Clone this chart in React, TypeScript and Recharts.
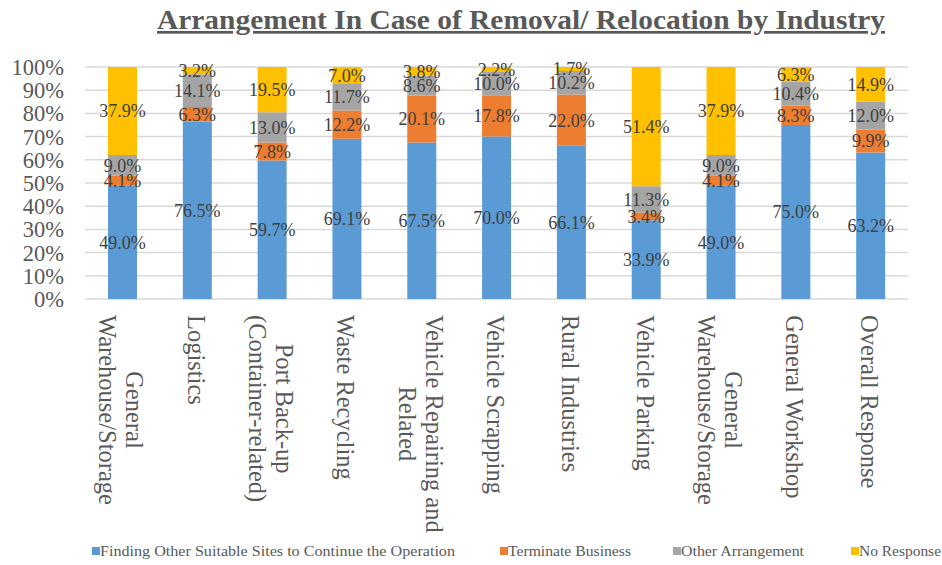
import React from "react";
import { BarChart, Bar, XAxis, YAxis, CartesianGrid, LabelList, Legend } from "recharts";

const categories = [
  "General\nWarehouse/Storage",
  "Logistics",
  "Port Back-up\n(Container-related)",
  "Waste Recycling",
  "Vehicle Repairing and\nRelated",
  "Vehicle Scrapping",
  "Rural Industries",
  "Vehicle Parking",
  "General\nWarehouse/Storage",
  "General Workshop",
  "Overall Response",
];

const findingSites = [49.0, 76.5, 59.7, 69.1, 67.5, 70.0, 66.1, 33.9, 49.0, 75.0, 63.2];
const terminate = [4.1, 6.3, 7.8, 12.2, 20.1, 17.8, 22.0, 3.4, 4.1, 8.3, 9.9];
const otherArr = [9.0, 14.1, 13.0, 11.7, 8.6, 10.0, 10.2, 11.3, 9.0, 10.4, 12.0];
const noResponse = [37.9, 3.2, 19.5, 7.0, 3.8, 2.2, 1.7, 51.4, 37.9, 6.3, 14.9];

const yTicks = [0, 10, 20, 30, 40, 50, 60, 70, 80, 90, 100];

const seriesNames = [
  "Finding Other Suitable Sites to Continue the Operation",
  "Terminate Business",
  "Other Arrangement",
  "No Response",
];
const seriesKeys = ["finding", "terminate", "other", "noresp"];
const seriesColors = ["#5B9BD5", "#ED7D31", "#A5A5A5", "#FFC000"];

const title = "Arrangement In Case of Removal/ Relocation by Industry";

const data = categories.map((name, i) => ({
  name,
  finding: findingSites[i],
  terminate: terminate[i],
  other: otherArr[i],
  noresp: noResponse[i],
}));

const FONT = "'Liberation Serif', 'Times New Roman', serif";
const TICK_FONT_SIZE = 24.5;

let ctx: CanvasRenderingContext2D | null = null;
const measure = (s: string, size: number) => {
  if (!ctx) {
    const c = document.createElement("canvas");
    ctx = c.getContext("2d");
  }
  if (!ctx) return s.length * size * 0.45;
  ctx.font = `${size}px 'Liberation Serif'`;
  return ctx.measureText(s).width;
};

const RotatedTick = (props: any) => {
  const { x, y, payload } = props;
  const lines: string[] = String(payload.value).split("\n");
  const maxW = Math.max(...lines.map((l) => measure(l, TICK_FONT_SIZE)));
  const L = 27;
  const n = lines.length;
  return (
    <g transform={`translate(${x - 1},${y + 16}) rotate(90)`}>
      {lines.map((l, i) => (
        <text
          key={i}
          x={maxW / 2}
          y={(i - (n - 1) / 2) * L}
          dy="0.35em"
          textAnchor="middle"
          fontFamily={FONT}
          fontSize={TICK_FONT_SIZE}
          fill="#595959"
        >
          {l}
        </text>
      ))}
    </g>
  );
};

// legend layout (pixel placement of each entry)
const legendSquareX = [92, 500, 673, 851];
const legendTextW = [355, 123, 123, 82];

const LegendContent = () => (
  <svg width={942} height={30} style={{ display: "block", overflow: "visible" }}>
    {seriesNames.map((n, i) => (
      <g key={n}>
        <rect x={legendSquareX[i]} y={12} width={8} height={8} fill={seriesColors[i]} />
        <text
          x={legendSquareX[i] + 8}
          y={21}
          fontFamily={FONT}
          fontSize={15.5}
          fill="#595959"
          textLength={legendTextW[i]}
          lengthAdjust="spacingAndGlyphs"
        >
          {n}
        </text>
      </g>
    ))}
  </svg>
);

const fmt = (v: any) => `${Number(v).toFixed(1)}%`;

export default function App() {
  return (
    <div style={{ position: "absolute", left: 0, top: 0, width: 942, height: 565, background: "#fff" }}>
      <BarChart
        width={942}
        height={565}
        data={data}
        margin={{ top: 67, right: 34, left: 0, bottom: 0 }}
      >
        <CartesianGrid vertical={false} stroke="#D9D9D9" strokeWidth={1.5} />
        <XAxis
          dataKey="name"
          axisLine={false}
          tickLine={false}
          tickSize={0}
          tickMargin={0}
          interval={0}
          height={236}
          tick={<RotatedTick />}
        />
        <YAxis
          width={85}
          domain={[0, 100]}
          ticks={yTicks}
          interval={0}
          allowDataOverflow
          axisLine={false}
          tickLine={false}
          tickSize={0}
          tickMargin={21}
          tickFormatter={(v: number) => `${v}%`}
          tick={{ fontFamily: FONT, fontSize: 22.5, fill: "#595959" }}
        />
        <Legend
          verticalAlign="bottom"
          height={30}
          wrapperStyle={{ left: 0, width: 942, overflow: "visible" }}
          content={<LegendContent />}
        />
        {seriesKeys.map((k, i) => (
          <Bar
            key={k}
            dataKey={k}
            name={seriesNames[i]}
            stackId="a"
            fill={seriesColors[i]}
            barSize={29}
            isAnimationActive={false}
          >
            <LabelList
              dataKey={k}
              position="center"
              formatter={fmt}
              style={{ fontFamily: FONT, fontSize: 18, fill: "#404040" }}
            />
          </Bar>
        ))}
      </BarChart>
      <svg
        width={942}
        height={50}
        style={{ position: "absolute", left: 0, top: 0, pointerEvents: "none" }}
      >
        <text
          x={521}
          y={29}
          textAnchor="middle"
          fontFamily={FONT}
          fontWeight="bold"
          fontSize={27}
          fill="#595959"
          textLength={728}
          lengthAdjust="spacingAndGlyphs"
          style={{ textDecoration: "underline" }}
        >
          {title}
        </text>
      </svg>
    </div>
  );
}
